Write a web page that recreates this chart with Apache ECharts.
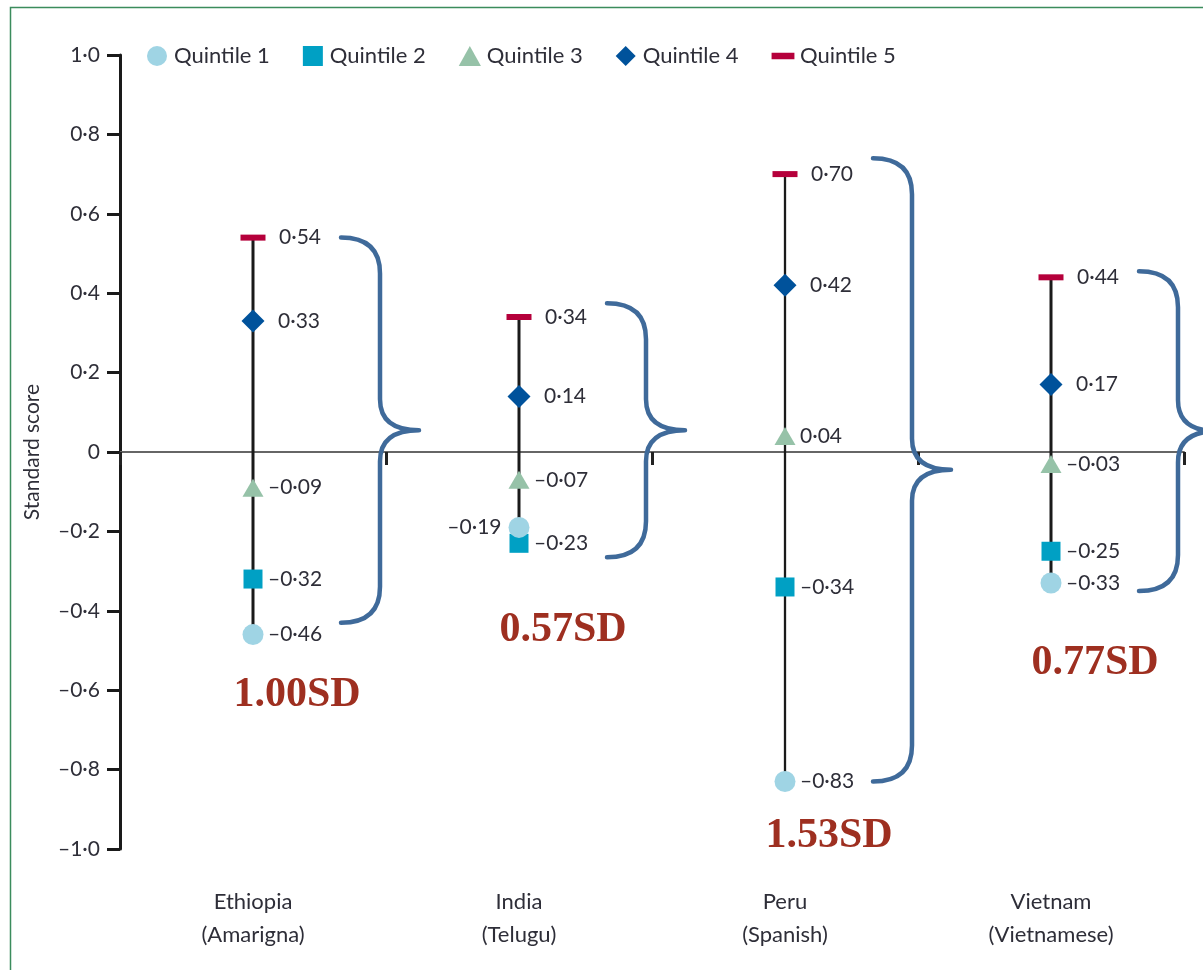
<!DOCTYPE html>
<html>
<head>
<meta charset="utf-8">
<script src="https://cdn.jsdelivr.net/npm/echarts@6/dist/echarts.min.js"></script>
<style>
  html, body { margin: 0; padding: 0; background: #fff; }
  #chart { width: 1203px; height: 970px; }
</style>
</head>
<body>
<div id="chart"></div>
<script>
// ---- data ----
const categories = ['Ethiopia\n(Amarigna)', 'India\n(Telugu)', 'Peru\n(Spanish)', 'Vietnam\n(Vietnamese)'];
const quintileNames = ['Quintile 1', 'Quintile 2', 'Quintile 3', 'Quintile 4', 'Quintile 5'];
const quintile1 = [-0.46, -0.19, -0.83, -0.33];
const quintile2 = [-0.32, -0.23, -0.34, -0.25];
const quintile3 = [-0.09, -0.07, 0.04, -0.03];
const quintile4 = [0.33, 0.14, 0.42, 0.17];
const quintile5 = [0.54, 0.34, 0.70, 0.44];
// brace extents (standard score units) and gap-label vertical positions
const braceTop = [0.54, 0.375, 0.74, 0.455];
const braceBottom = [-0.43, -0.265, -0.83, -0.35];
const gapLabelY = [-0.612, -0.448, -0.967, -0.531];
const yMin = -1.0, yMax = 1.0, yInterval = 0.2;

const FONT = 'Lato';
const TEXT = '#2e2e38';

function fmtVal(v) {
  const s = Math.abs(v).toFixed(2).replace('.', '\u00b7');
  return (v < 0 ? '\u2013' : '') + s;
}
function fmtTick(v) {
  if (Math.abs(v) < 1e-9) return '0';
  const s = Math.abs(v).toFixed(1).replace('.', '\u00b7');
  return (v < 0 ? '\u2013' : '') + s;
}

const allQ = [quintile1, quintile2, quintile3, quintile4, quintile5];
const rangeData = categories.map((c, i) => {
  const vals = allQ.map(q => q[i]);
  return [i, Math.min(...vals), Math.max(...vals)];
});
const braceData = categories.map((c, i) => [i, braceTop[i], braceBottom[i]]);
const gapData = categories.map((c, i) => [i, gapLabelY[i], (rangeData[i][2] - rangeData[i][1]).toFixed(2) + 'SD']);

const rangeWidths = [3, 3, 2.3, 3];

const qStyles = [
  { symbol: 'circle', size: 21, color: '#9fd4e4', dist: 4.5, z: 6,
    icon: 'circle' },
  { symbol: 'rect', size: [19, 19], color: '#00a0c4', dist: 5.5, z: 4,
    icon: 'path://M0,0H20V20H0Z' },
  { symbol: 'triangle', size: [21, 18], color: '#96c2a8', dist: 4.5, z: 4,
    icon: 'path://M10,0L20,18H0Z' },
  { symbol: 'diamond', size: [23, 23], color: '#00529b', dist: 13.5, z: 4,
    icon: 'path://M11,0L22,11L11,22L0,11Z' },
  { symbol: 'rect', size: [25, 6], color: '#b5003b', dist: 13.5, z: 4,
    icon: 'path://M0,0L0.01,0M0,7H24V14H0ZM0,21L0.01,21' }
];

// label overrides: [seriesIndex, categoryIndex]
const leftLabels = [[0, 1]];

const scatterSeries = allQ.map((q, si) => {
  const st = qStyles[si];
  return {
    name: quintileNames[si],
    type: 'scatter',
    xAxisIndex: 0,
    symbol: st.symbol,
    symbolSize: st.size,
    z: st.z,
    itemStyle: { color: st.color, opacity: 1 },
    label: {
      show: true, position: 'right', distance: st.dist,
      formatter: p => fmtVal(p.value),
      fontFamily: FONT, fontSize: 21, color: TEXT
    },
    emphasis: { disabled: true },
    data: q.map((v, ci) => {
      const isLeft = leftLabels.some(l => l[0] === si && l[1] === ci);
      return isLeft ? { value: v, label: { position: 'left', distance: 7 } } : v;
    })
  };
});

const chart = echarts.init(document.getElementById('chart'), null, { renderer: 'canvas' });

const option = {
  animation: false,
  backgroundColor: '#ffffff',
  graphic: [{
    type: 'rect', silent: true, z: -10,
    shape: { x: 10.5, y: 7.5, width: 1400, height: 1200 },
    style: { fill: 'none', stroke: '#3b8c5c', lineWidth: 1.5 }
  }],
  legend: {
    top: 40, left: 142,
    itemWidth: 24, itemHeight: 20, itemGap: 33,
    textStyle: { fontFamily: FONT, fontSize: 22, color: TEXT },
    selectedMode: false,
    data: quintileNames.map((n, i) => ({ name: n, icon: qStyles[i].icon }))
  },
  grid: { left: 120, right: 19, top: 55, bottom: 121, containLabel: false },
  xAxis: [{
    type: 'category', data: categories, boundaryGap: true,
    axisLine: { show: true, onZero: true, lineStyle: { color: '#666', width: 2 } },
    axisTick: { show: true, alignWithLabel: false, length: 13, lineStyle: { color: '#222', width: 3 } },
    axisLabel: { show: false },
    splitLine: { show: false }
  }, {
    type: 'category', data: categories, position: 'bottom', boundaryGap: true,
    axisLine: { show: false, onZero: false },
    axisTick: { show: false },
    axisLabel: { show: true, margin: 36, fontFamily: FONT, fontSize: 22, color: TEXT, lineHeight: 33 },
    splitLine: { show: false }
  }],
  yAxis: {
    type: 'value', min: yMin, max: yMax, interval: yInterval,
    name: 'Standard score', nameLocation: 'middle', nameGap: 77,
    nameTextStyle: { fontFamily: FONT, fontSize: 21, color: TEXT },
    axisLine: { show: true, lineStyle: { color: '#1a1a1a', width: 3 } },
    axisTick: { show: true, length: 13, lineStyle: { color: '#1a1a1a', width: 3 } },
    axisLabel: { formatter: fmtTick, margin: 20, fontFamily: FONT, fontSize: 21, color: TEXT },
    splitLine: { show: false }
  },
  series: [
    {
      type: 'custom', name: 'range', xAxisIndex: 0, z: 2, silent: true,
      encode: { x: 0, y: [1, 2] },
      renderItem: (params, api) => {
        const i = api.value(0);
        const a = api.coord([i, api.value(1)]);
        const b = api.coord([i, api.value(2)]);
        return { type: 'line', shape: { x1: a[0], y1: a[1], x2: b[0], y2: b[1] },
          style: { stroke: '#1a1a1a', lineWidth: rangeWidths[i] } };
      },
      data: rangeData
    },
    {
      type: 'custom', name: 'brace', xAxisIndex: 0, z: 3, silent: true, clip: false,
      encode: { x: 0, y: [1, 2] },
      renderItem: (params, api) => {
        const i = api.value(0);
        const t = api.coord([i, api.value(1)]);
        const b = api.coord([i, api.value(2)]);
        const cx = t[0], yt = t[1], yb = b[1], ym = (yt + yb) / 2;
        const L = cx + 88, S = cx + 127, T = cx + 166;
        const d = `M${L},${yt} Q${S},${yt} ${S},${yt + 36} L${S},${ym - 31} Q${S},${ym} ${T},${ym} ` +
                  `Q${S},${ym} ${S},${ym + 31} L${S},${yb - 36} Q${S},${yb} ${L},${yb}`;
        return { type: 'path', shape: { pathData: d },
          style: { fill: 'none', stroke: '#3f6a9a', lineWidth: 4.5, lineCap: 'round', lineJoin: 'round' } };
      },
      data: braceData
    },
    {
      type: 'custom', name: 'gap', xAxisIndex: 0, z: 3, silent: true, clip: false,
      encode: { x: 0, y: 1 },
      renderItem: (params, api) => {
        const i = api.value(0);
        const p = api.coord([i, api.value(1)]);
        return { type: 'text', x: p[0] + 44, y: p[1],
          style: { text: gapData[i][2], fontFamily: 'Liberation Serif', fontWeight: 'bold', fontSize: 42,
            fill: '#9e2f20', align: 'center', verticalAlign: 'middle' } };
      },
      data: gapData.map(d => [d[0], d[1]])
    },
    ...scatterSeries
  ]
};
chart.setOption(option);
</script>
</body>
</html>
